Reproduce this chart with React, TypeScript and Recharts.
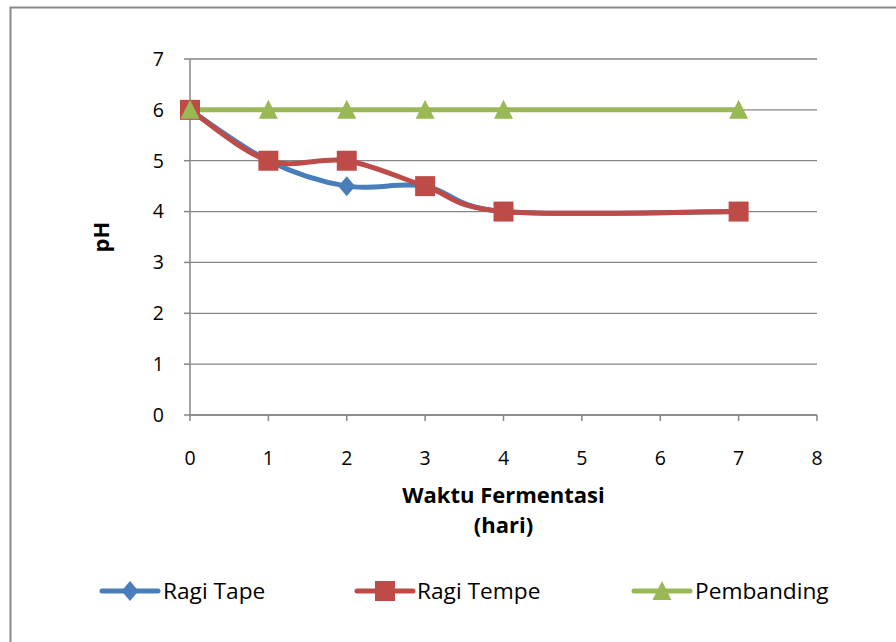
import React from "react";
import {
  LineChart,
  Line,
  XAxis,
  YAxis,
  CartesianGrid,
  Label,
  Customized,
} from "recharts";

// hari fermentasi yang diukur
const days = [0, 1, 2, 3, 4, 7];
const ragiTape = [6, 5, 4.5, 4.5, 4, 4];
const ragiTempe = [6, 5, 5, 4.5, 4, 4];
const pembanding = [6, 6, 6, 6, 6, 6];

const xTicks = [0, 1, 2, 3, 4, 5, 6, 7, 8];
const yTicks = [0, 1, 2, 3, 4, 5, 6, 7];

const series = [
  { key: "tape", name: "Ragi Tape", color: "#4A7EBB", shape: "diamond" },
  { key: "tempe", name: "Ragi Tempe", color: "#BE4B48", shape: "square" },
  { key: "banding", name: "Pembanding", color: "#98B954", shape: "triangle" },
];

const data = days.map((d, i) => ({
  day: d,
  tape: ragiTape[i],
  tempe: ragiTempe[i],
  banding: pembanding[i],
}));

const FONT = "'Open Sans', 'Noto Sans', sans-serif";
const AXIS = "#868686";

// smoothed line like Excel's (Catmull-Rom converted to cubic beziers)
function smoothCurve(context: any) {
  let pts: number[][] = [];
  return {
    areaStart() {},
    areaEnd() {},
    lineStart() {
      pts = [];
    },
    point(x: number, y: number) {
      pts.push([+x, +y]);
    },
    lineEnd() {
      if (!pts.length) return;
      context.moveTo(pts[0][0], pts[0][1]);
      for (let i = 0; i < pts.length - 1; i++) {
        const p0 = pts[i - 1] || pts[i];
        const p1 = pts[i];
        const p2 = pts[i + 1];
        const p3 = pts[i + 2] || pts[i + 1];
        context.bezierCurveTo(
          p1[0] + (p2[0] - p0[0]) / 6,
          p1[1] + (p2[1] - p0[1]) / 6,
          p2[0] - (p3[0] - p1[0]) / 6,
          p2[1] - (p3[1] - p1[1]) / 6,
          p2[0],
          p2[1]
        );
      }
    },
  };
}

function Marker({ shape, color, cx, cy }: { shape: string; color: string; cx: number; cy: number }) {
  if (shape === "diamond") {
    return (
      <polygon
        points={`${cx},${cy - 10} ${cx + 8.5},${cy} ${cx},${cy + 10} ${cx - 8.5},${cy}`}
        fill={color}
      />
    );
  }
  if (shape === "square") {
    const s = 10;
    return <rect x={cx - s} y={cy - s} width={s * 2} height={s * 2} fill={color} />;
  }
  return (
    <polygon
      points={`${cx},${cy - 10} ${cx + 9.5},${cy + 9} ${cx - 9.5},${cy + 9}`}
      fill={color}
    />
  );
}

function makeDot(shape: string, color: string) {
  return (props: any) => {
    const { cx, cy, index } = props;
    if (cx == null || cy == null) return <g key={index} />;
    return (
      <g key={index}>
        <Marker shape={shape} color={color} cx={Number(cx)} cy={Number(cy)} />
      </g>
    );
  };
}

// legend item positions (line start, text start)
const legendPos = [
  { lineX: 102, textX: 163 },
  { lineX: 357, textX: 417 },
  { lineX: 634, textX: 695 },
];

function ChartLegend() {
  return (
    <svg
      width={896}
      height={60}
      style={{ position: "absolute", left: 0, top: 561 }}
    >
      {series.map((s, i) => {
        const p = legendPos[i];
        return (
          <g key={s.key}>
            <line
              x1={p.lineX}
              x2={p.lineX + 56}
              y1={30}
              y2={30}
              stroke={s.color}
              strokeWidth={5}
              strokeLinecap="round"
            />
            <Marker shape={s.shape} color={s.color} cx={p.lineX + 28} cy={30} />
            <text x={p.textX} y={38} fontSize={22.7} fontFamily={FONT} fill="#000">
              {s.name}
            </text>
          </g>
        );
      })}
    </svg>
  );
}

export default function App() {
  return (
    <div
      style={{
        position: "fixed",
        left: 0,
        top: 0,
        width: 896,
        height: 642,
        background: "#fff",
        overflow: "hidden",
      }}
    >
      <LineChart
        width={896}
        height={642}
        data={data}
        margin={{ top: 59, right: 79, left: 0, bottom: 0 }}
      >
        <Customized
          component={() => (
            <rect x={10.5} y={7.5} width={900} height={700} fill="none" stroke="#8a8a8a" strokeWidth={2} />
          )}
        />
        <CartesianGrid vertical={false} stroke={AXIS} strokeWidth={1.3} />
        <XAxis
          dataKey="day"
          type="number"
          domain={[0, 8]}
          ticks={xTicks}
          height={227}
          stroke={AXIS}
          strokeWidth={1.5}
          tickSize={6}
          tickMargin={30}
          tick={{ fontSize: 19.5, fontFamily: FONT, fill: "#000" }}
        >
          <Label
            content={({ viewBox }: any) => {
              const cx = viewBox.x + viewBox.width / 2;
              return (
                <text
                  textAnchor="middle"
                  fontSize={22}
                  fontWeight="bold"
                  fontFamily={FONT}
                  fill="#000"
                >
                  <tspan x={cx} y={viewBox.y + 88}>
                    Waktu Fermentasi
                  </tspan>
                  <tspan x={cx} y={viewBox.y + 118}>
                    (hari)
                  </tspan>
                </text>
              );
            }}
          />
        </XAxis>
        <YAxis
          domain={[0, 7]}
          ticks={yTicks}
          width={190}
          stroke={AXIS}
          strokeWidth={1.5}
          tickSize={6}
          tickMargin={20}
          tick={{ fontSize: 19.5, fontFamily: FONT, fill: "#000" }}
        >
          <Label
            content={() => (
              <text
                x={100}
                y={237}
                transform="rotate(-90 100 237)"
                textAnchor="middle"
                dominantBaseline="central"
                fontSize={22}
                fontWeight="bold"
                fontFamily={FONT}
                fill="#000"
              >
                pH
              </text>
            )}
          />
        </YAxis>
        {series.map((s) => (
          <Line
            key={s.key}
            type={smoothCurve as any}
            dataKey={s.key}
            name={s.name}
            stroke={s.color}
            strokeWidth={5}
            dot={makeDot(s.shape, s.color)}
            activeDot={false}
            isAnimationActive={false}
          />
        ))}
      </LineChart>
      <ChartLegend />
    </div>
  );
}
